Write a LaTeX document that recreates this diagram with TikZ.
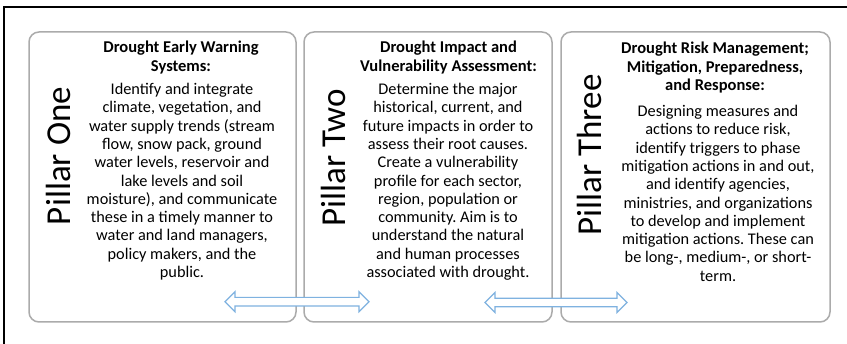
\documentclass[tikz,border=0pt]{standalone}
\usepackage{fontspec}
\setmainfont{Carlito}
\frenchspacing
\definecolor{boxgray}{HTML}{ABABAB}
\definecolor{arrblue}{HTML}{7FB2E0}
\newcommand{\dblarr}[4]{%
  \coordinate (#1) at ({(#2+#3)/2},#4);
  \draw[arrowsty] (#2,#4) -- ({#2+10},{#4-10}) -- ({#2+10},{#4-4.3}) -- ({#3-10},{#4-4.3})
    -- ({#3-10},{#4-10}) -- (#3,#4) -- ({#3-10},{#4+10}) -- ({#3-10},{#4+4.3})
    -- ({#2+10},{#4+4.3}) -- ({#2+10},{#4+10}) -- cycle;}
\begin{document}
\begin{tikzpicture}[x=1pt,y=-1pt,
  pillarbox/.style={draw=boxgray, line width=1.5pt, rounded corners=10pt, fill=white, inner sep=0pt},
  pillarlabel/.style={rotate=90, font=\fontsize{35}{40}\selectfont, inner sep=0pt},
  headsty/.style={anchor=north, align=center, inner sep=0pt, font=\fontsize{16.5}{18.3}\selectfont\bfseries},
  bodysty/.style={anchor=north, align=center, inner sep=0pt, font=\fontsize{16.3}{18.3}\selectfont},
  arrowsty/.style={draw=arrblue, line width=1.2pt, fill=white, line join=miter}]
\useasboundingbox (0,0) rectangle (847,344);
% frame
\draw[line width=2pt] (4,344) -- (4,7) -- (847,7);
% boxes
\node[pillarbox, minimum width=267pt, minimum height=290pt] (b1) at (162.5,177) {};
\node[pillarbox, minimum width=248pt, minimum height=290pt] (b2) at (428,177) {};
\node[pillarbox, minimum width=269pt, minimum height=290pt] (b3) at (695.5,177) {};
% pillar labels
\node[pillarlabel] (p1) at (58.5,156) {Pillar One};
\node[pillarlabel] (p2) at (333,158) {Pillar Two};
\node[pillarlabel] (p3) at (589,155) {Pillar Three};
% headings
\node[headsty] (h1) at (181,41) {Drought Early Warning\\Systems:};
\node[headsty] (h2) at (448.5,41) {Drought Impact and\\Vulnerability Assessment:};
\node[headsty] (h3) at (715,42) {Drought Risk Management;\\Mitigation, Preparedness,\\and Response:};
% bodies
\node[bodysty] (t1) at (182,83) {Identify and integrate\\climate, vegetation, and\\water supply trends (stream\\flow, snow pack, ground\\water levels, reservoir and\\lake levels and soil\\moisture), and communicate\\these in a timely manner to\\water and land managers,\\policy makers, and the\\public.};
\node[bodysty] (t2) at (448,83) {Determine the major\\historical, current, and\\future impacts in order to\\assess their root causes.\\Create a vulnerability\\profile for each sector,\\region, population or\\community. Aim is to\\understand the natural\\and human processes\\associated with drought.};
\node[bodysty] (t3) at (718,105) {Designing measures and\\actions to reduce risk,\\identify triggers to phase\\mitigation actions in and out,\\and identify agencies,\\ministries, and organizations\\to develop and implement\\mitigation actions. These can\\be long-, medium-, or short-\\term.};
% arrows
\dblarr{a1}{225}{369}{301.7}
\dblarr{a2}{485}{627}{302.5}
\end{tikzpicture}
\end{document}
